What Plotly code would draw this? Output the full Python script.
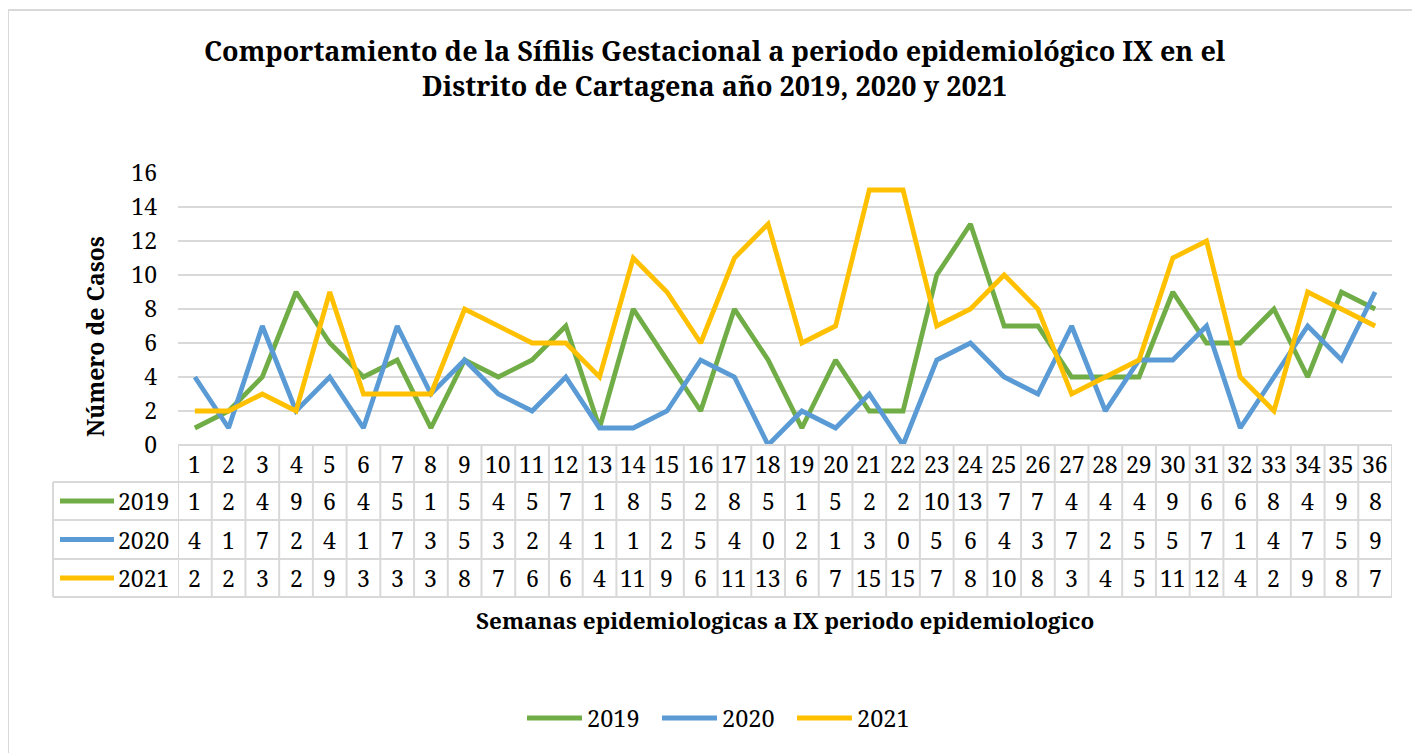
import plotly.graph_objects as go

weeks = list(range(1, 37))
years = ["2019", "2020", "2021"]
cases_2019 = [1, 2, 4, 9, 6, 4, 5, 1, 5, 4, 5, 7, 1, 8, 5, 2, 8, 5, 1, 5, 2, 2, 10, 13, 7, 7, 4, 4, 4, 9, 6, 6, 8, 4, 9, 8]
cases_2020 = [4, 1, 7, 2, 4, 1, 7, 3, 5, 3, 2, 4, 1, 1, 2, 5, 4, 0, 2, 1, 3, 0, 5, 6, 4, 3, 7, 2, 5, 5, 7, 1, 4, 7, 5, 9]
cases_2021 = [2, 2, 3, 2, 9, 3, 3, 3, 8, 7, 6, 6, 4, 11, 9, 6, 11, 13, 6, 7, 15, 15, 7, 8, 10, 8, 3, 4, 5, 11, 12, 4, 2, 9, 8, 7]
series = [cases_2019, cases_2020, cases_2021]
colors = ["#70AD47", "#5B9BD5", "#FFC000"]

title_text = ("Comportamiento de la Sífilis Gestacional a periodo epidemiológico IX en el<br>"
              "Distrito de Cartagena año 2019, 2020 y 2021")
y_title = "Número de Casos"
x_title = "Semanas epidemiologicas a IX periodo epidemiologico"

OFF = 8  # browser body margin
W, H = 1420 - OFF, 753 - OFF
L, R, T, B = 178, 1392, 173, 445
FONT = "Noto Serif"
GRID = "#D9D9D9"


def px(x):
    return (x - L) / (R - L)


def py(y):
    return (B - y) / (B - T)


fig = go.Figure()
for name, vals, col in zip(years, series, colors):
    fig.add_trace(go.Scatter(x=weeks, y=vals, mode="lines", name=name,
                             line=dict(color=col, width=4.8), showlegend=False))

shapes = []
annotations = []


def txt(x, y, s, size, xref="paper", xanchor="center", angle=0):
    annotations.append(dict(x=x, y=y, xref=xref, yref="paper", text=s, showarrow=False,
                            xanchor=xanchor, yanchor="middle", textangle=angle,
                            font=dict(family=FONT, size=size, color="black")))


shapes.append(dict(type="rect", xref="paper", yref="paper",
                   x0=px(8), x1=px(1440), y0=py(10), y1=py(780),
                   line=dict(color=GRID, width=2), layer="below"))

row_edges = [445, 482, 520, 559, 597]
for i, yy in enumerate(row_edges):
    x0 = L if i == 0 else 53
    shapes.append(dict(type="line", xref="paper", yref="paper",
                       x0=px(x0), x1=1, y0=py(yy), y1=py(yy),
                       line=dict(color=GRID, width=2)))
shapes.append(dict(type="line", xref="paper", yref="paper",
                   x0=px(53), x1=px(53), y0=py(482), y1=py(597),
                   line=dict(color=GRID, width=2)))
for k in range(0, len(weeks) + 1):
    xv = weeks[0] - 0.5 + k
    shapes.append(dict(type="line", xref="x", yref="paper",
                       x0=xv, x1=xv, y0=py(445), y1=py(597),
                       line=dict(color=GRID, width=2)))

row_centers = [(row_edges[i] + row_edges[i + 1]) / 2 for i in range(4)]
for w in weeks:
    txt(w, py(row_centers[0]), str(w), 23, xref="x")
for r, (name, vals, col) in enumerate(zip(years, series, colors)):
    yc = py(row_centers[r + 1])
    shapes.append(dict(type="line", xref="paper", yref="paper",
                       x0=px(60), x1=px(114), y0=yc, y1=yc,
                       line=dict(color=col, width=5)))
    txt(px(116), yc, name, 23, xanchor="left")
    for w, v in zip(weeks, vals):
        txt(w, yc, str(v), 23, xref="x")

txt(px(715), py(68), "<b>" + title_text + "</b>", 27)
txt(px(95), py(337), "<b>" + y_title + "</b>", 23, angle=-90)
txt(0.5, py(620), "<b>" + x_title + "</b>", 22.5)

leg_x = [527, 662, 797]
for name, col, lx in zip(years, colors, leg_x):
    shapes.append(dict(type="line", xref="paper", yref="paper",
                       x0=px(lx), x1=px(lx + 55), y0=py(718), y1=py(718),
                       line=dict(color=col, width=5)))
    txt(px(lx + 58), py(718), name, 23.5, xanchor="left")

fig.update_layout(
    width=W, height=H,
    margin=dict(l=L - OFF, r=W + OFF - R, t=T - OFF, b=H + OFF - B, pad=0),
    paper_bgcolor="white", plot_bgcolor="white",
    shapes=shapes, annotations=annotations,
    showlegend=False,
    xaxis=dict(range=[0.5, 36.5], showticklabels=False, showgrid=False,
               zeroline=False, showline=False, ticks=""),
    yaxis=dict(range=[0, 16], dtick=2, showgrid=True, gridcolor=GRID, gridwidth=2,
               zeroline=False, showline=False, ticks="", ticklabelstandoff=20,
               tickfont=dict(family=FONT, size=23, color="black")),
)

fig.write_html("out.html")
